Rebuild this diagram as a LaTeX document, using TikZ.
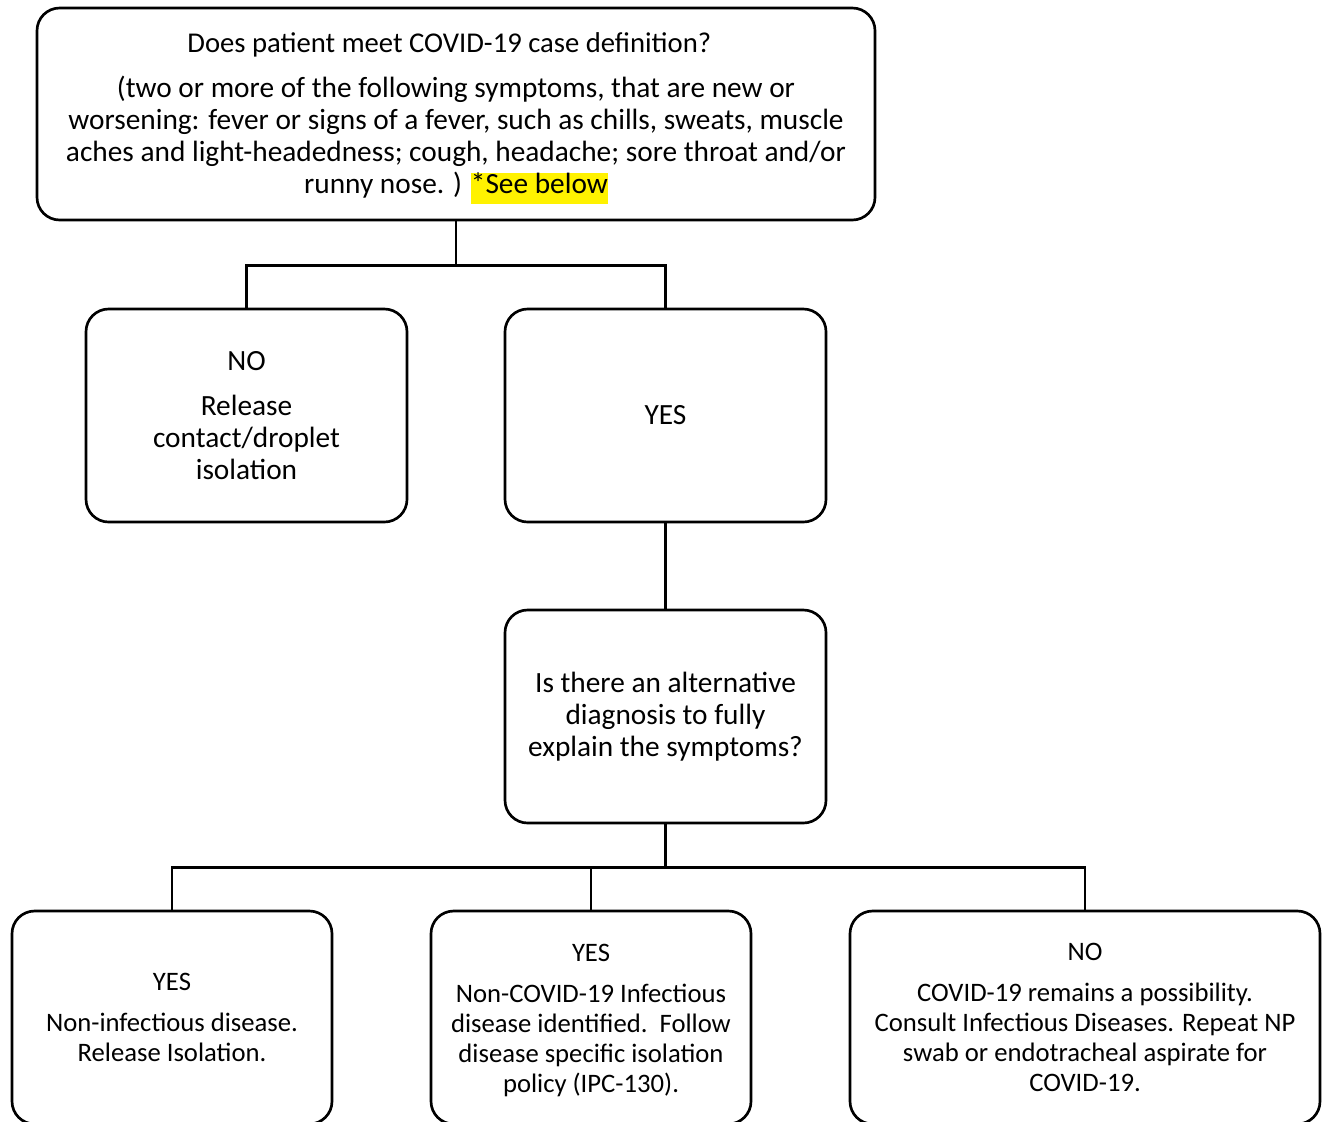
\documentclass[tikz,border=0pt]{standalone}
\usepackage{fontspec}
\setmainfont{Carlito}
\usepackage{tikz}
\setlength{\fboxsep}{0pt}

\tikzset{
	flowbox/.style={draw, rounded corners=17pt, line width=2pt, align=center, inner sep=0pt, font=\fontsize{22}{24}\selectfont},
	smallbox/.style={flowbox, font=\fontsize{20}{22.5}\selectfont},
	link/.style={line width=2pt},
}

\begin{document}
\begin{tikzpicture}[x=0.75pt,y=-0.75pt]
	\useasboundingbox (0,0) rectangle (1326,1121);
	\clip (0,0) rectangle (1326,1121);
	% first question
	\node[flowbox, minimum width=628.5pt, minimum height=159pt] (case) at (456,114) {\rule{0pt}{21.5pt}{\fontsize{21.5}{24}\selectfont Does patient meet COVID-19 case definition?}\hspace*{10pt}\\[9.75pt]
		(two or more of the following symptoms, that are new or\\
		worsening: fever or signs of a fever, such as chills, sweats, muscle\\
		aches and light-headedness; cough, headache; sore throat and/or\\
		runny nose. ) \colorbox{yellow}{\rule[-7.5pt]{0pt}{19.5pt}*See below}};
	\node[flowbox, minimum width=240.75pt, minimum height=159.75pt] (no) at (246.5,415.5) {NO\\[9.75pt] Release\\ contact/droplet\\ isolation};
	\node[flowbox, minimum width=240.75pt, minimum height=159.75pt] (yes) at (665.5,415.5) {YES};
	% second question
	\node[flowbox, minimum width=240.75pt, minimum height=159.75pt] (alt) at (665.5,716.5) {Is there an alternative\\ diagnosis to fully\\ explain the symptoms?};
	\node[smallbox, minimum width=240pt, minimum height=159.75pt] (noninf) at (172,1017.5) {YES\\[8pt] Non-infectious disease.\\ Release Isolation.};
	\node[smallbox, minimum width=240pt, minimum height=159.75pt] (inf) at (591,1017.5) {\rule{0pt}{17pt}YES\\[8pt] Non-COVID-19 Infectious\\ disease identified.\ \ Follow\\ disease specific isolation\\ policy (IPC-130).};
	\node[smallbox, minimum width=352.5pt, minimum height=159.75pt] (covid) at (1085,1017.5) {NO\\[8pt] COVID-19 remains a possibility.\\ Consult Infectious Diseases. Repeat NP\\ swab or endotracheal aspirate for\\ COVID-19.};
	\draw[link] (case.south) -- ++(0,44) -| (no.north);
	\draw[link] (case.south) ++(0,44) -| (yes.north);
	\draw[link] (yes.south) -- (alt.north);
	\draw[link] (alt.south) -- ++(0,43) -| (noninf.north);
	\draw[link] (alt.south) ++(0,43) -| (inf.north);
	\draw[link] (alt.south) ++(0,43) -| (covid.north);
\end{tikzpicture}
\end{document}
